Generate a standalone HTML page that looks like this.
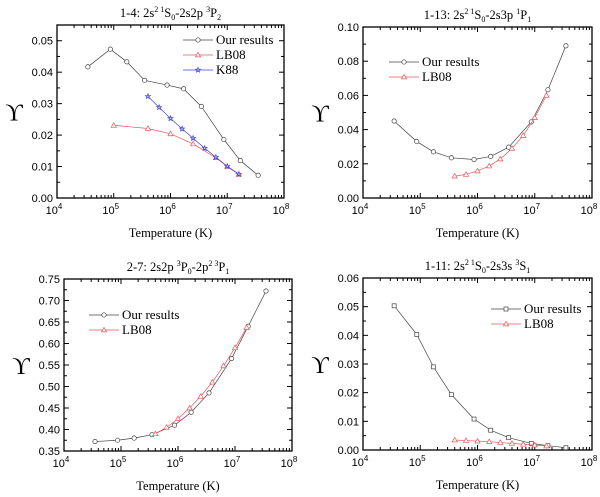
<!DOCTYPE html>
<html><head><meta charset="utf-8"><style>
body{margin:0;background:#fff;}
svg{display:block;}
.t{font-family:"Liberation Serif",serif;fill:#000;}
.n{font-family:"Liberation Sans",sans-serif;fill:#000;font-size:11px;}
</style></head><body>
<svg id="c" width="600" height="497" viewBox="0 0 600 497"></svg>
<script>
const T10 = [3.5e4, 8.7e4, 1.7e5, 3.5e5, 8.7e5, 1.7e6, 3.5e6, 8.7e6, 1.7e7, 3.5e7];
const T_lb1 = [1e5, 4e5, 1e6, 2.5e6, 6.3e6, 1e7, 1.6e7];
const T_lb = [4e5, 6.3e5, 1e6, 1.6e6, 2.5e6, 4e6, 6.3e6, 1e7, 1.6e7];
const p1_our = [0.0417, 0.0473, 0.0433, 0.0374, 0.0359, 0.0347, 0.0291, 0.0186, 0.0119, 0.0072];
const p1_lb = [0.0231, 0.0221, 0.0204, 0.0172, 0.0128, 0.0100, 0.0075];
const p1_k88 = [0.0323, 0.0288, 0.0253, 0.0220, 0.0190, 0.0158, 0.0130, 0.0101, 0.0076];
const p2_our = [0.045, 0.033, 0.027, 0.0235, 0.0225, 0.0243, 0.0297, 0.0445, 0.0633, 0.089];
const p2_lb = [0.0128, 0.0138, 0.0158, 0.0187, 0.0228, 0.029, 0.0365, 0.047, 0.060];
const p3_our = [0.372, 0.375, 0.38, 0.388, 0.41, 0.44, 0.485, 0.565, 0.64, 0.722];
const p3_lb = [0.39, 0.405, 0.425, 0.45, 0.477, 0.51, 0.548, 0.59, 0.637];
const p4_our = [0.0503, 0.0403, 0.0290, 0.0193, 0.0108, 0.0069, 0.0043, 0.0023, 0.0015, 0.0008];
const p4_lb = [0.0035, 0.0033, 0.0031, 0.0029, 0.0026, 0.0023, 0.0020, 0.0017, 0.0014];
const yt1 = ["0.00","0.01","0.02","0.03","0.04","0.05"];
const yt2 = ["0.00","0.02","0.04","0.06","0.08","0.10"];
const yt3 = ["0.35","0.40","0.45","0.50","0.55","0.60","0.65","0.70","0.75"];
const yt4 = ["0.00","0.01","0.02","0.03","0.04","0.05","0.06"];

const svg = document.getElementById('c');
const NS = 'http://www.w3.org/2000/svg';
function mk(tag, attrs, parent){const e=document.createElementNS(NS,tag);for(const k in attrs)e.setAttribute(k,attrs[k]);(parent||svg).appendChild(e);return e;}

function panel(cfg){
  const g = mk('g',{});
  
  
  const {L,R,Tp,B,ymin,ymax} = cfg;
  const xs = v => L + (Math.log10(v)-4)/4*(R-L);
  const ys = v => B - (v-ymin)/(ymax-ymin)*(B-Tp);
  const box = mk('rect',{x:L,y:Tp,width:R-L,height:B-Tp,fill:'none',stroke:'#000','stroke-width':1.3},g);
  
  
  for(let d=4; d<=8; d++){
    const x = xs(Math.pow(10,d));
    mk('line',{x1:x,x2:x,y1:B,y2:B-5,stroke:'#000'},g);
    mk('line',{x1:x,x2:x,y1:Tp,y2:Tp+5,stroke:'#000'},g);
    const t = mk('text',{x:x-3,y:B+16,'text-anchor':'middle',class:'n'},g);
    t.textContent='10';
    
    
    const s = mk('tspan',{dy:-5,'font-size':'8px'},t); s.textContent=String(d);
    if(d<8) for(let m=2;m<=9;m++){const xm=xs(m*Math.pow(10,d));
      mk('line',{x1:xm,x2:xm,y1:B,y2:B-3,stroke:'#000'},g);
      mk('line',{x1:xm,x2:xm,y1:Tp,y2:Tp+3,stroke:'#000'},g);}
  }
  const n = cfg.yt.length;
  cfg.yt.forEach((lab,i)=>{
    const v = parseFloat(lab); const y = ys(v);
    mk('line',{x1:L,x2:L+5,y1:y,y2:y,stroke:'#000'},g);
    mk('line',{x1:R,x2:R-5,y1:y,y2:y,stroke:'#000'},g);
    const t = mk('text',{x:L-4,y:y+4,'text-anchor':'end',class:'n'},g);
    t.textContent=lab;
    
    
    if(i<n-1){const step=parseFloat(cfg.yt[1])-parseFloat(cfg.yt[0]);const ym=ys(v+step/2);
      mk('line',{x1:L,x2:L+3,y1:ym,y2:ym,stroke:'#000'},g);
      mk('line',{x1:R,x2:R-3,y1:ym,y2:ym,stroke:'#000'},g);}
  });
  if(cfg.topHalf){const step=parseFloat(cfg.yt[1])-parseFloat(cfg.yt[0]);const v=parseFloat(cfg.yt[n-1])+step/2;if(v<=ymax){const ym=ys(v);
      mk('line',{x1:L,x2:L+3,y1:ym,y2:ym,stroke:'#000'},g);
      mk('line',{x1:R,x2:R-3,y1:ym,y2:ym,stroke:'#000'},g);}}
  const tt = mk('text',{x:(L+R)/2,y:Tp-8,'text-anchor':'middle',class:'t','font-size':'12.5px'},g);
  tt.innerHTML = cfg.title;
  
  
  const xl = mk('text',{x:(L+R)/2,y:B+39,'text-anchor':'middle',class:'t','font-size':'12.5px'},g);
  xl.textContent='Temperature (K)';
  
  
  const yl = mk('text',{x:L-43,y:(Tp+B)/2+9,'text-anchor':'middle',class:'t','font-size':'24px'},g);
  yl.textContent='ϒ';
  
  
  cfg.series.forEach(s=>{
    const sg = mk('g',{},g);
    
    
    const pts = s.x.map((xv,i)=>[xs(xv),ys(s.y[i])]);
    mk('polyline',{points:pts.map(p=>p.join(',')).join(' '),fill:'none',stroke:s.color,'stroke-width':0.7},sg);
    pts.forEach(p=>marker(sg,s.m,p[0],p[1],s.color));
  });
  cfg.series.forEach((s,i)=>{
    const lx = cfg.lx, ly = cfg.ly + i*cfg.lsp;
    const lg = mk('g',{},g);
    
    
    mk('line',{x1:lx,x2:lx+30,y1:ly,y2:ly,stroke:s.color,'stroke-width':0.7},lg);
    marker(lg,s.m,lx+15,ly,s.color);
    const t = mk('text',{x:lx+33,y:ly+4,class:'t','font-size':'13px'},lg);
    t.textContent = s.label;
  });
}
function marker(g,m,x,y,c){
  if(m==='o') mk('circle',{cx:x,cy:y,r:2.2,fill:'#fff',stroke:c,'stroke-width':0.7},g);
  else if(m==='s') mk('rect',{x:x-2,y:y-2,width:4,height:4,fill:'#fff',stroke:c,'stroke-width':0.7},g);
  else if(m==='t') mk('polygon',{points:`${x},${y-2.6} ${x-2.6},${y+1.9} ${x+2.6},${y+1.9}`,fill:'#fff',stroke:c,'stroke-width':0.7},g);
  else if(m==='*'){let p=[];for(let k=0;k<10;k++){const r=k%2?1.1:2.6,a=-Math.PI/2+k*Math.PI/5;p.push((x+r*Math.cos(a)).toFixed(2)+','+(y+r*Math.sin(a)).toFixed(2));}
    mk('polygon',{points:p.join(' '),fill:'#bbc',stroke:c,'stroke-width':0.7},g);}
}
const black='#444', red='#e8555a', blue='#4444dd';
panel({name:'panel-1-4',L:57,R:284,Tp:25,B:198,ymin:0,ymax:0.055,yt:yt1,topHalf:true,
  title:'1-4: 2s<tspan dy="-5" font-size="8">2 1</tspan><tspan dy="5">S</tspan><tspan dy="3" font-size="8">0</tspan><tspan dy="-3">-2s2p </tspan><tspan dy="-5" font-size="8">3</tspan><tspan dy="5">P</tspan><tspan dy="3" font-size="8">2</tspan>',
  lx:183,ly:40,lsp:15,
  series:[{name:'series-our-results',label:'Our results',x:T10,y:p1_our,color:black,m:'o'},
          {name:'series-lb08',label:'LB08',x:T_lb1,y:p1_lb,color:red,m:'t'},
          {name:'series-k88',label:'K88',x:T_lb,y:p1_k88,color:blue,m:'*'}]});
panel({name:'panel-1-13',L:363,R:592,Tp:27,B:198,ymin:0,ymax:0.10,yt:yt2,
  title:'1-13: 2s<tspan dy="-5" font-size="8">2 1</tspan><tspan dy="5">S</tspan><tspan dy="3" font-size="8">0</tspan><tspan dy="-3">-2s3p </tspan><tspan dy="-5" font-size="8">1</tspan><tspan dy="5">P</tspan><tspan dy="3" font-size="8">1</tspan>',
  lx:389,ly:62,lsp:15,
  series:[{name:'series-our-results',label:'Our results',x:T10,y:p2_our,color:black,m:'o'},
          {name:'series-lb08',label:'LB08',x:T_lb,y:p2_lb,color:red,m:'t'}]});
panel({name:'panel-2-7',L:64,R:292,Tp:279,B:451,ymin:0.35,ymax:0.75,yt:yt3,
  title:'2-7: 2s2p <tspan dy="-5" font-size="8">3</tspan><tspan dy="5">P</tspan><tspan dy="3" font-size="8">0</tspan><tspan dy="-3">-2p</tspan><tspan dy="-5" font-size="8">2 3</tspan><tspan dy="5">P</tspan><tspan dy="3" font-size="8">1</tspan>',
  lx:89,ly:315,lsp:15,
  series:[{name:'series-our-results',label:'Our results',x:T10,y:p3_our,color:black,m:'o'},
          {name:'series-lb08',label:'LB08',x:T_lb,y:p3_lb,color:red,m:'t'}]});
panel({name:'panel-1-11',L:363,R:592,Tp:278,B:450,ymin:0,ymax:0.06,yt:yt4,
  title:'1-11: 2s<tspan dy="-5" font-size="8">2 1</tspan><tspan dy="5">S</tspan><tspan dy="3" font-size="8">0</tspan><tspan dy="-3">-2s3s </tspan><tspan dy="-5" font-size="8">3</tspan><tspan dy="5">S</tspan><tspan dy="3" font-size="8">1</tspan>',
  lx:491,ly:309,lsp:15,
  series:[{name:'series-our-results',label:'Our results',x:T10,y:p4_our,color:black,m:'s'},
          {name:'series-lb08',label:'LB08',x:T_lb,y:p4_lb,color:red,m:'t'}]});
</script>
</body></html>
